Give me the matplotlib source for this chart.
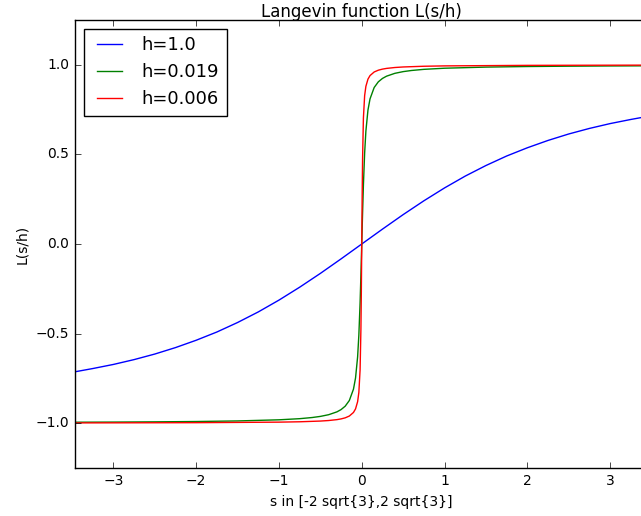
import numpy as np
import matplotlib
matplotlib.use("Agg")
import matplotlib.pyplot as plt

# s values and L(s/h)
s_blue = [-3.464, -3.25, -3.0, -2.75, -2.5, -2.25, -2.0, -1.75, -1.5, -1.25, -1.0,
          -0.75, -0.5, -0.25, 0.0, 0.25, 0.5, 0.75, 1.0, 1.25, 1.5, 1.75, 2.0,
          2.25, 2.5, 2.75, 3.0, 3.25, 3.464]
L_blue = [-0.713, -0.695, -0.672, -0.645, -0.614, -0.578, -0.537, -0.491, -0.438,
          -0.379, -0.313, -0.241, -0.164, -0.083, 0.0, 0.083, 0.164, 0.241, 0.313,
          0.379, 0.438, 0.491, 0.537, 0.578, 0.614, 0.645, 0.672, 0.695, 0.713]

s_green = [-3.464, -3.0, -2.5, -2.0, -1.5, -1.0, -0.75, -0.6, -0.5, -0.4, -0.3,
           -0.25, -0.2, -0.15, -0.1, -0.075, -0.05, -0.035, -0.02, -0.01, -0.005,
           0.0, 0.005, 0.01, 0.02, 0.035, 0.05, 0.075, 0.1, 0.15, 0.2, 0.25, 0.3,
           0.4, 0.5, 0.6, 0.75, 1.0, 1.5, 2.0, 2.5, 3.0, 3.464]
L_green = [-0.9945, -0.9937, -0.9924, -0.9905, -0.9873, -0.981, -0.9747, -0.9683,
           -0.962, -0.9525, -0.9367, -0.924, -0.905, -0.8733, -0.81, -0.7474, -0.63,
           -0.5086, -0.328, -0.172, -0.0877, 0.0, 0.0877, 0.172, 0.328, 0.5086, 0.63,
           0.7474, 0.81, 0.8733, 0.905, 0.924, 0.9367, 0.9525, 0.962, 0.9683, 0.9747,
           0.981, 0.9873, 0.9905, 0.9924, 0.9937, 0.9945]

s_red = [-3.464, -2.0, -1.0, -0.75, -0.5, -0.4, -0.3, -0.25, -0.2, -0.15, -0.1,
         -0.075, -0.05, -0.035, -0.02, -0.01, -0.005, -0.002, 0.0, 0.002, 0.005,
         0.01, 0.02, 0.035, 0.05, 0.075, 0.1, 0.15, 0.2, 0.25, 0.3, 0.4, 0.5, 0.75,
         1.0, 2.0, 3.464]
L_red = [-0.9983, -0.997, -0.994, -0.992, -0.988, -0.985, -0.98, -0.976, -0.97,
         -0.96, -0.94, -0.92, -0.88, -0.8285, -0.7025, -0.474, -0.266, -0.11, 0.0,
         0.11, 0.266, 0.474, 0.7025, 0.8285, 0.88, 0.92, 0.94, 0.96, 0.97, 0.976,
         0.98, 0.985, 0.988, 0.992, 0.994, 0.997, 0.9983]

labels = ["h=1.0", "h=0.019", "h=0.006"]

plt.style.use("classic")
plt.rcParams["font.family"] = ["DejaVu Sans"]

fig = plt.figure(figsize=(6.41, 5.16), dpi=100, facecolor="white")
ax = fig.add_axes([0.117, 0.093, 0.8947, 0.8682])

ax.plot(s_blue, L_blue, color="b", lw=1.0, label=labels[0])
ax.plot(s_green, L_green, color="g", lw=1.0, label=labels[1])
ax.plot(s_red, L_red, color="r", lw=1.0, label=labels[2])

ax.set_xlim(-2 * np.sqrt(3), 2 * np.sqrt(3))
ax.set_ylim(-1.25, 1.25)
ax.set_xticks([-3, -2, -1, 0, 1, 2, 3])
ax.set_yticks([-1.0, -0.5, 0.0, 0.5, 1.0])
ax.tick_params(labelsize=10)

ax.set_title("Langevin function L(s/h)", fontsize=12, pad=2)
ax.set_xlabel("s in [-2 sqrt{3},2 sqrt{3}]", fontsize=10)
ax.set_ylabel("L(s/h)", fontsize=10)

ax.legend(loc="upper left", fontsize=13)

fig.savefig("out.png", dpi=100, facecolor="white")
